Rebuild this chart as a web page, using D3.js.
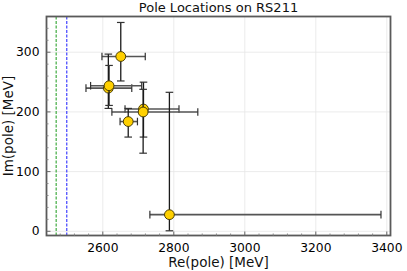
<!DOCTYPE html>
<html>
<head>
<meta charset="utf-8">
<script src="https://cdn.jsdelivr.net/npm/d3@7"></script>
<style>
  body { margin: 0; background: #fff; }
  text { font-family: "DejaVu Sans", sans-serif; }
</style>
</head>
<body>
<div id="chart"></div>
<script>
// pole positions (MeV)
let rePole = [2652, 2617, 2619, 2716, 2715, 2673, 2789];
let imPole = [292, 239, 243, 204, 199, 183, 27];
let reLow  = [2599, 2554, 2567, 2664, 2627, 2650, 2734];
let reHigh = [2721, 2683, 2711, 2816, 2869, 2699, 3385];
let imLow  = [251, 205, 210, 157, 130, 157, 0];
let imHigh = [349, 296, 277, 249, 237, 205, 232];

// thresholds (dashed vertical lines)
let thresholds = [2470, 2500];
let thresholdColors = ["#1a9a1a", "#1a1aff"];

let xTicks = [2600, 2800, 3000, 3200, 3400];
let yTicks = [0, 100, 200, 300];

let svgWidth = 407;
let svgHeight = 271;

let frame = { left: 46.5, right: 390.5, top: 16.5, bottom: 235.5 };

let svg = d3.select("#chart")
  .append("svg")
  .attr("width", svgWidth)
  .attr("height", svgHeight);

let x = d3.scaleLinear().domain([2442.8, 3411.8]).range([frame.left, frame.right]);
let y = d3.scaleLinear().domain([-7.9, 359]).range([frame.bottom, frame.top]);

let plotW = frame.right - frame.left;
let plotH = frame.bottom - frame.top;

// grid
svg.append("g")
  .attr("transform", `translate(0, ${frame.bottom})`)
  .call(d3.axisBottom(x).tickValues(xTicks).tickSize(-plotH).tickFormat(""))
  .call(g => g.select(".domain").remove())
  .call(g => g.selectAll("line").attr("stroke", "#e6e6e6").attr("stroke-width", 0.8));

svg.append("g")
  .attr("transform", `translate(${frame.left}, 0)`)
  .call(d3.axisLeft(y).tickValues(yTicks).tickSize(-plotW).tickFormat(""))
  .call(g => g.select(".domain").remove())
  .call(g => g.selectAll("line").attr("stroke", "#e6e6e6").attr("stroke-width", 0.8));

// threshold lines
thresholds.forEach((t, i) => {
  svg.append("line")
    .attr("x1", x(t)).attr("x2", x(t))
    .attr("y1", frame.top).attr("y2", frame.bottom)
    .attr("stroke", thresholdColors[i])
    .attr("stroke-width", 1)
    .attr("stroke-dasharray", "3,1.5");
});

// error bars + markers, one pole at a time
let cap = 3.8;
for (let i = 0; i < rePole.length; i++) {
  let g = svg.append("g");
  let cx = x(rePole[i]), cy = y(imPole[i]);

  // horizontal bar
  g.append("line")
    .attr("x1", x(reLow[i])).attr("x2", x(reHigh[i]))
    .attr("y1", cy).attr("y2", cy)
    .attr("stroke", "#555").attr("stroke-width", 1.6);
  [reLow[i], reHigh[i]].forEach(v => {
    g.append("line")
      .attr("x1", x(v)).attr("x2", x(v))
      .attr("y1", cy - cap).attr("y2", cy + cap)
      .attr("stroke", "#333").attr("stroke-width", 1.2);
  });

  // vertical bar
  g.append("line")
    .attr("x1", cx).attr("x2", cx)
    .attr("y1", y(imLow[i])).attr("y2", y(imHigh[i]))
    .attr("stroke", "#1a1a1a").attr("stroke-width", 1.3);
  [imLow[i], imHigh[i]].forEach(v => {
    g.append("line")
      .attr("x1", cx - cap).attr("x2", cx + cap)
      .attr("y1", y(v)).attr("y2", y(v))
      .attr("stroke", "#333").attr("stroke-width", 1.2);
  });

  g.append("circle")
    .attr("cx", cx).attr("cy", cy)
    .attr("r", 4.9)
    .attr("fill", "#ffd000")
    .attr("stroke", "#3a3000")
    .attr("stroke-width", 0.9);
}

// frame
svg.append("rect")
  .attr("x", frame.left).attr("y", frame.top)
  .attr("width", plotW).attr("height", plotH)
  .attr("fill", "none")
  .attr("stroke", "#5a5a5a")
  .attr("stroke-width", 1.8);

// ticks (inward) and labels
let xAxis = svg.append("g")
  .attr("transform", `translate(0, ${frame.bottom})`)
  .call(d3.axisBottom(x).tickValues(xTicks).tickSize(-4).tickPadding(8).tickFormat(d3.format("d")));
xAxis.select(".domain").remove();
xAxis.selectAll("line").attr("stroke", "#666");
xAxis.selectAll("text").attr("font-size", 12.3).attr("fill", "#000")
  .style("font-family", "DejaVu Sans");

let xMinor = d3.range(2480, 3411, 40).filter(v => !xTicks.includes(v));
svg.append("g")
  .attr("transform", `translate(0, ${frame.bottom})`)
  .call(d3.axisBottom(x).tickValues(xMinor).tickSize(-2).tickFormat(""))
  .call(g => g.select(".domain").remove())
  .call(g => g.selectAll("line").attr("stroke", "#888"));

let yAxis = svg.append("g")
  .attr("transform", `translate(${frame.left}, 0)`)
  .call(d3.axisLeft(y).tickValues(yTicks).tickSize(-4).tickPadding(7));
yAxis.select(".domain").remove();
yAxis.selectAll("line").attr("stroke", "#666");
yAxis.selectAll("text").attr("font-size", 12.3).attr("fill", "#000")
  .style("font-family", "DejaVu Sans");

let yMinor = d3.range(0, 359, 20).filter(v => !yTicks.includes(v));
svg.append("g")
  .attr("transform", `translate(${frame.left}, 0)`)
  .call(d3.axisLeft(y).tickValues(yMinor).tickSize(-2).tickFormat(""))
  .call(g => g.select(".domain").remove())
  .call(g => g.selectAll("line").attr("stroke", "#888"));

// axis titles
svg.append("text")
  .attr("x", (frame.left + frame.right) / 2)
  .attr("y", 267)
  .attr("text-anchor", "middle")
  .attr("font-size", 13.5)
  .attr("fill", "#111")
  .text("Re(pole) [MeV]");

svg.append("text")
  .attr("transform", `translate(13, ${(frame.top + frame.bottom) / 2}) rotate(-90)`)
  .attr("text-anchor", "middle")
  .attr("font-size", 13.5)
  .attr("fill", "#111")
  .text("Im(pole) [MeV]");

svg.append("text")
  .attr("x", (frame.left + frame.right) / 2)
  .attr("y", 12)
  .attr("text-anchor", "middle")
  .attr("font-size", 13)
  .attr("fill", "#111")
  .text("Pole Locations on RS211");
</script>
</body>
</html>
